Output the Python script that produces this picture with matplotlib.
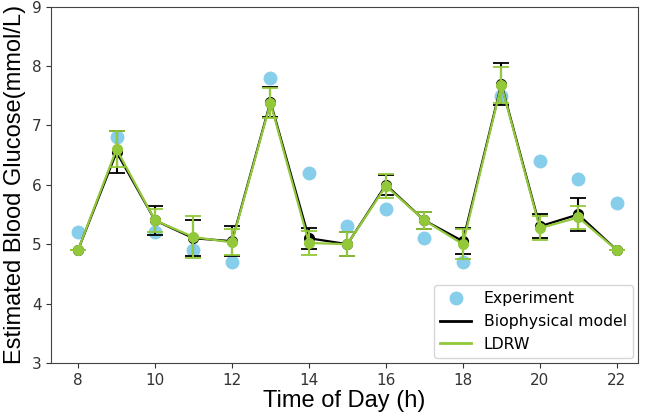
import matplotlib.pyplot as plt
import numpy as np

hours = np.arange(8, 23)
experiment = [5.2, 6.8, 5.2, 4.9, 4.7, 7.8, 6.2, 5.3, 5.6, 5.1, 4.7, 7.5, 6.4, 6.1, 5.7]
biophysical = [4.9, 6.55, 5.4, 5.1, 5.05, 7.4, 5.1, 5.0, 6.0, 5.4, 5.05, 7.7, 5.3, 5.5, 4.9]
biophysical_err = [0, 0.35, 0.25, 0.3, 0.25, 0.25, 0.18, 0.2, 0.17, 0.15, 0.22, 0.36, 0.2, 0.27, 0]
ldrw = [4.9, 6.6, 5.4, 5.12, 5.03, 7.38, 5.02, 5.0, 5.98, 5.4, 5.0, 7.68, 5.27, 5.45, 4.9]
ldrw_err = [0, 0.3, 0.2, 0.35, 0.22, 0.25, 0.2, 0.2, 0.2, 0.15, 0.25, 0.3, 0.2, 0.2, 0]

green = '#92c83a'
blue = '#87ceeb'

fig = plt.figure(figsize=(6.47, 4.2), dpi=100)
ax = fig.add_axes([0.079, 0.136, 0.907, 0.848])

ax.plot(hours, experiment, 'o', color=blue, markersize=9, label='Experiment', zorder=1)
ax.errorbar(hours, biophysical, yerr=biophysical_err, color='black', marker='o',
            markersize=7, linewidth=1.6, capsize=6, elinewidth=1.5, capthick=1.3,
            label='Biophysical model', zorder=2)
ax.errorbar(hours, ldrw, yerr=ldrw_err, color=green, marker='o',
            markersize=7, linewidth=1.6, capsize=6, elinewidth=1.5, capthick=1.3,
            label='LDRW', zorder=3)

ax.set_xlim(7.3, 22.55)
ax.set_ylim(3, 9)
ax.set_xticks(range(8, 23, 2))
ax.tick_params(labelsize=11, colors='#333333')
ax.set_xlabel('Time of Day (h)', fontsize=17, family='Liberation Sans', labelpad=2)
ax.set_ylabel('Estimated Blood Glucose(mmol/L)', fontsize=17, family='Liberation Sans', labelpad=4)
for s in ax.spines.values():
    s.set_color('#444444')

handles, labels = ax.get_legend_handles_labels()
handles = [handles[0], plt.Line2D([], [], color='black', lw=2), plt.Line2D([], [], color=green, lw=2)]
ax.legend(handles, labels, loc='lower right', fontsize=11.3, borderaxespad=0.3)

fig.savefig('out.png')
